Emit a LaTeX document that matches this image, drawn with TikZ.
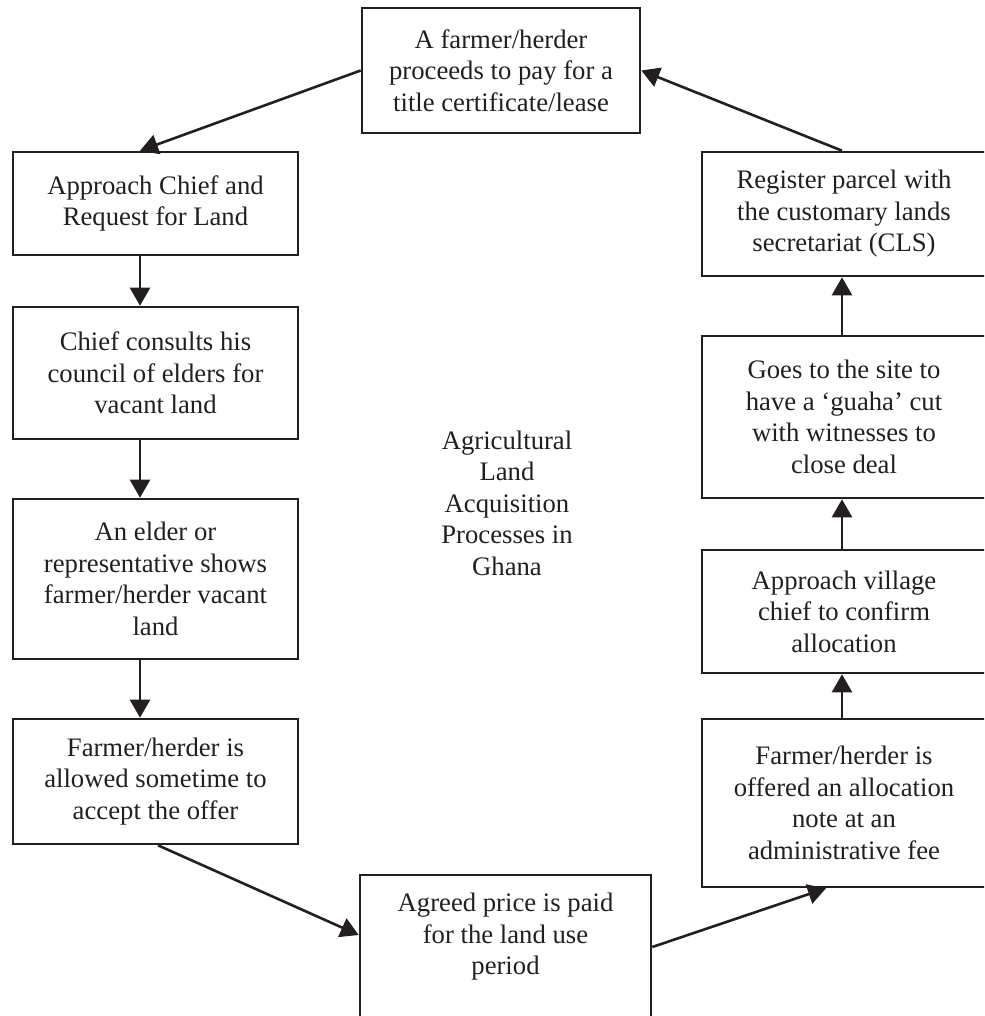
\documentclass[tikz,border=0pt]{standalone}
\usepackage{fontspec}
\setmainfont{Liberation Serif}
\usetikzlibrary{arrows.meta}
\definecolor{ink}{RGB}{35,31,32}
\newcommand\boxfont{\fontsize{26.7}{31.5}\selectfont}
\begin{document}
\begin{tikzpicture}[x=1pt,y=-1pt,
  box/.style={draw=ink, line width=2.6pt, align=center, inner sep=0pt, text=ink, font=\boxfont},
  lbl/.style={align=center, inner sep=0pt, text=ink, font=\boxfont},
  arr/.style={draw=ink, line width=2.6pt, -{Triangle[length=18pt,width=20pt]}},
]
\useasboundingbox (0,0) rectangle (984,1016);
\clip (0,0) rectangle (984,1016);
% top
\node[box, minimum width=278pt, minimum height=125pt] (T) at (501,70.5)
  {A farmer/herder\\proceeds to pay for a\\title certificate/lease};
% left column
\node[box, minimum width=285pt, minimum height=103pt] (L1) at (155.5,203.5)
  {Approach Chief and\\Request for Land};
\node[box, minimum width=285pt, minimum height=132pt] (L2) at (155.5,373)
  {Chief consults his\\council of elders for\\vacant land};
\node[box, minimum width=285pt, minimum height=160pt] (L3) at (155.5,579)
  {An elder or\\representative shows\\farmer/herder vacant\\land};
\node[box, minimum width=285pt, minimum height=125pt] (L4) at (155.5,781.5)
  {Farmer/herder is\\allowed sometime to\\accept the offer};
% right column
\node[box, minimum width=284pt, minimum height=124pt] (R1) at (844,214)
  {Register parcel with\\the customary lands\\secretariat (CLS)};
\node[box, minimum width=284pt, minimum height=162pt] (R2) at (844,417)
  {Goes to the site to\\have a ‘guaha’ cut\\with witnesses to\\close deal};
\node[box, minimum width=284pt, minimum height=123pt] (R3) at (844,611.5)
  {Approach village\\chief to confirm\\allocation};
\node[box, minimum width=284pt, minimum height=168pt] (R4) at (844,803)
  {Farmer/herder is\\offered an allocation\\note at an\\administrative fee};
% bottom
\node[box, minimum width=291pt, minimum height=165pt] (B) at (505.5,957.5) {};
\node[lbl] (Bt) at (505.5,937) {Agreed price is paid\\for the land use\\period};
% centre title
\node[lbl] (C) at (507,503)
  {Agricultural\\Land\\Acquisition\\Processes in\\Ghana};
% connectors
\draw[arr] (T.west) -- ([xshift=-15.5pt]L1.north);
\draw[arr] ([xshift=-15.5pt]L1.south) -- ([xshift=-15.5pt]L2.north);
\draw[arr] ([xshift=-15.5pt]L2.south) -- ([xshift=-15.5pt]L3.north);
\draw[arr] ([xshift=-15.5pt]L3.south) -- ([xshift=-15.5pt]L4.north);
\draw[arr] ([xshift=2.5pt]L4.south) -- ([yshift=22.5pt]B.west);
\draw[arr] ([yshift=10.5pt]B.east) -- ([xshift=-18pt]R4.south);
\draw[arr] ([xshift=-2pt]R4.north) -- ([xshift=-2pt]R3.south);
\draw[arr] ([xshift=-2pt]R3.north) -- ([xshift=-2pt]R2.south);
\draw[arr] ([xshift=-2pt]R2.north) -- ([xshift=-2pt]R1.south);
\draw[arr] ([xshift=-2pt]R1.north) -- (T.east);
\end{tikzpicture}
\end{document}
